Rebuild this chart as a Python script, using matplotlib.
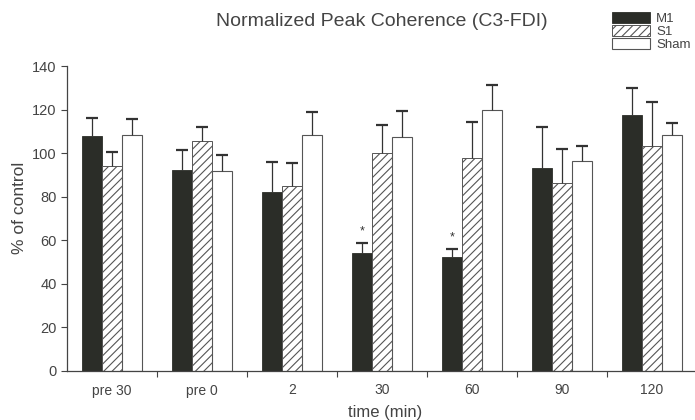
import numpy as np
import matplotlib
matplotlib.use('Agg')
import matplotlib.pyplot as plt

plt.rcParams['font.family'] = ['Liberation Sans', 'DejaVu Sans']
plt.rcParams['hatch.color'] = '#555555'
plt.rcParams['hatch.linewidth'] = 0.8

times = ['pre 30', 'pre 0', '2', '30', '60', '90', '120']
m1 = [107.7, 92.4, 82.1, 54.2, 52.3, 93.2, 117.6]
m1_err = [8.4, 9.2, 14.0, 4.5, 3.8, 18.6, 12.5]
s1 = [93.9, 105.8, 84.7, 100.0, 97.7, 86.3, 103.1]
s1_err = [6.6, 6.0, 11.0, 13.0, 16.8, 15.6, 20.6]
sham = [108.4, 91.6, 108.4, 107.4, 119.9, 96.2, 108.1]
sham_err = [7.2, 7.5, 10.7, 12.1, 11.3, 7.3, 5.7]
stars = ['', '', '', '*', '*', '', '']

grey = '#444444'
fig = plt.figure(figsize=(6.95, 4.2), dpi=100)
ax = fig.add_axes([67/695, 49/420, 630/695, 305/420])

x = np.arange(len(times))
w = 0.222
ekw = dict(ecolor='#333333', elinewidth=0.9, capsize=4, capthick=1.6)
bars = []
bars.append(ax.bar(x - w, m1, w, color='#2b2d28', edgecolor='#2b2d28', linewidth=0.6, label='M1',
                   yerr=[np.zeros(len(m1)), m1_err], error_kw=ekw))
bars.append(ax.bar(x, s1, w, color='white', edgecolor='#555555', linewidth=0.7, hatch='////',
                   label='S1', yerr=[np.zeros(len(s1)), s1_err], error_kw=ekw))
bars.append(ax.bar(x + w, sham, w, color='white', edgecolor='#555555', linewidth=0.8, label='Sham',
                   yerr=[np.zeros(len(sham)), sham_err], error_kw=ekw))
# only upper caps
for b in bars:
    b.errorbar.lines[1][0].set_visible(False)

for i, s in enumerate(stars):
    if s:
        ax.text(x[i] - w, m1[i] + m1_err[i] + 2.5, s, ha='center', va='bottom',
                fontsize=9, color='#333333')

ax.set_xlim(-0.5, 6.5)
ax.set_ylim(0, 140)
ax.set_yticks(range(0, 141, 20))
ax.set_xticks(x + 0.5, minor=False)
ax.set_xticklabels([])
ax.set_xticks(x, minor=True)
ax.set_xticklabels(times, minor=True)
ax.tick_params(axis='both', which='major', length=4, width=0.8, color=grey,
               labelsize=10.5, labelcolor=grey)
ax.tick_params(axis='x', which='minor', length=0, pad=9, labelsize=10, labelcolor=grey)
for side in ['top', 'right']:
    ax.spines[side].set_visible(False)
for side in ['left', 'bottom']:
    ax.spines[side].set_color(grey)
    ax.spines[side].set_linewidth(0.9)

fig.text(385/695, 1 - 412/420, 'time (min)', ha='center', va='center', fontsize=12, color=grey)
fig.text(20/695, 1 - 208/420, '% of control', ha='center', va='center', rotation=90,
         fontsize=12.5, color=grey)
fig.text(382/695, 1 - 21/420, 'Normalized Peak Coherence (C3-FDI)', ha='center', va='center',
         fontsize=14, color=grey)

leg = fig.legend(loc='upper left', bbox_to_anchor=(612/695, 1 - 12/420), frameon=False,
                 fontsize=9.5, handlelength=2.9, handleheight=0.9, labelspacing=0.0,
                 handletextpad=0.45, borderpad=0, borderaxespad=0)
for t in leg.get_texts():
    t.set_color(grey)

fig.savefig('out.png', dpi=100)
